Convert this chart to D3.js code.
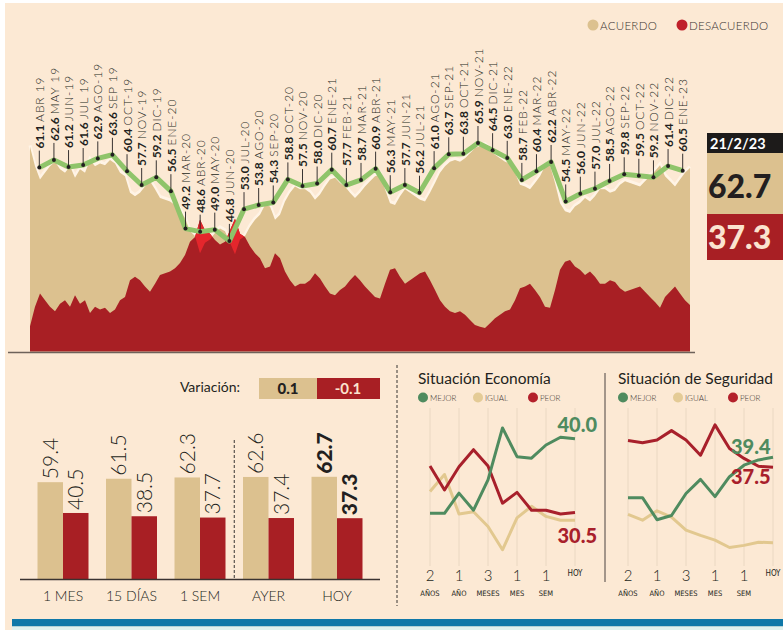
<!DOCTYPE html>
<html>
<head>
<meta charset="utf-8">
<script src="https://cdn.jsdelivr.net/npm/d3@7"></script>
<style>
  html, body { margin: 0; padding: 0; background: #fff; }
  svg { display: block; font-family: Lato, 'Noto Sans', sans-serif; }
</style>
</head>
<body>
<svg id="chart" width="783" height="630"></svg>
<script>
// ---- data ----
const months = ['ABR 19','MAY 19','JUN-19','JUL 19','AGO-19','SEP 19','OCT-19','NOV-19','DIC-19','ENE-20',
  'MAR-20','ABR-20','MAY-20','JUN-20','JUL-20','AGO-20','SEP-20','OCT-20','NOV-20','DIC-20',
  'ENE-21','FEB-21','MAR-21','ABR-21','MAY-21','JUN-21','JUL-21','AGO-21','SEP-21','OCT-21',
  'NOV-21','DIC-21','ENE-22','FEB-22','MAR-22','ABR-22','MAY-22','JUN-22','JUL-22','AGO-22',
  'SEP-22','OCT-22','NOV-22','DIC-22','ENE-23'];
const monthlyAcuerdo = [61.1,62.6,61.2,61.6,62.9,63.6,60.4,57.7,59.2,56.5,
  49.2,48.6,49.0,46.8,53.0,53.8,54.3,58.8,57.5,58.0,
  60.7,57.7,58.7,60.9,56.3,57.7,56.2,61.0,63.7,63.8,
  65.9,64.5,63.0,58.7,60.4,62.2,54.5,56.0,57.0,58.5,
  59.8,59.5,59.2,61.4,60.5];

// daily "desacuerdo" (acuerdo is its complement)
const desacuerdoDaily = [
  34.4,37.8,40.1,38.9,37.8,37.0,38.3,38.9,37.8,39.8,
  38.3,38.9,36.7,37.8,37.3,37.6,36.7,37.3,38.9,39.5,
  42.4,43.0,42.4,41.3,40.4,41.8,43.3,43.6,43.9,44.5,
  45.4,46.8,49.1,49.9,52.9,51.1,50.5,49.4,48.6,49.1,
  51.1,53.1,50.5,49.9,48.3,47.1,46.2,44.5,44.8,47.1,
  46.2,43.9,42.4,41.3,41.8,41.8,42.4,43.6,42.7,41.3,
  40.1,39.8,40.7,41.3,42.4,43.3,42.4,41.3,40.4,39.5,
  39.2,41.8,44.2,44.5,43.0,41.8,42.4,43.0,43.6,43.9,
  42.4,40.7,38.9,37.8,37.0,36.7,37.0,36.4,35.5,34.6,
  34.3,34.1,34.9,35.8,36.4,37.0,37.3,38.9,41.0,41.3,
  41.8,40.7,39.5,37.8,37.6,40.7,44.2,45.6,45.9,44.8,
  44.2,43.3,43.9,43.0,41.8,41.8,42.4,42.1,41.0,40.4,
  40.7,41.0,41.3,40.4,39.5,38.6,37.6,39.5,40.4,41.3,
  40.1,38.9,38.1];

const todayDate = '21/2/23';
const todayAcuerdo = 62.7;
const todayDesacuerdo = 37.3;

const periods = ['1 MES','15 DÍAS','1 SEM','AYER','HOY'];
const periodAcuerdo = [59.4, 61.5, 62.3, 62.6, 62.7];
const periodDesacuerdo = [40.5, 38.5, 37.7, 37.4, 37.3];
const variation = ['0.1', '-0.1'];

const miniTickNums = ['2','1','3','1','1','HOY'];
const miniTickUnits = ['AÑOS','AÑO','MESES','MES','SEM',''];
const miniTickIndex = [0,2,4,6,8,10];

const econMejor = [30.4,30.4,33.0,30.8,34.7,41.4,37.7,37.5,39.2,40.2,40.0];
const econIgual = [33.2,35.4,30.3,30.6,28.7,25.7,29.8,31.3,30.0,29.5,29.5];
const econPeor  = [36.5,33.4,36.4,38.6,36.5,31.7,33.1,30.8,30.8,30.3,30.5];

const segMejor = [31.7,31.7,27.5,28.3,32.5,35.2,31.9,35.7,37.9,38.9,39.4];
const segIgual = [28.5,27.4,29.2,28.0,25.5,24.5,23.6,22.2,22.6,23.2,23.1];
const segPeor  = [42.6,42.2,42.7,44.5,42.7,39.8,45.6,41.1,39.2,37.7,37.5];

// ---- styles ----
const BG = '#fce9d4';
const TAN = '#dcc18f';
const RED = '#a81f24';
const BRIGHT = '#e4262c';
const INK = '#231f20';
const GREEN = '#4f8b5f';

const svg = d3.select('#chart');
svg.append('rect').attr('width', 783).attr('height', 630).attr('fill', '#fff');
svg.append('rect').attr('x', 5).attr('y', 3).attr('width', 778).attr('height', 627).attr('fill', BG);

// ---- legend top ----
const legend = svg.append('g').attr('font-size', 11.5).attr('fill', '#3a3330').attr('font-weight', 300);
[['ACUERDO', TAN, 593], ['DESACUERDO', '#c0202a', 682]].forEach(([t, c, x]) => {
  legend.append('circle').attr('cx', x).attr('cy', 25).attr('r', 5.5).attr('fill', c);
  legend.append('text').attr('x', x + 7).attr('y', 29.5).attr('letter-spacing', 0.3).text(t);
});

// ---- area chart ----
const xDay = d3.scaleLinear().domain([0, desacuerdoDaily.length - 1]).range([30, 690]);
const yArea = d3.scaleLinear().domain([30, 70]).range([351.5, 121.5]);

const tanTop = d3.line().x((d, i) => xDay(i)).y(d => yArea(100 - d));
svg.append('path').datum(desacuerdoDaily)
  .attr('d', tanTop).attr('fill', 'none')
  .attr('stroke', '#fff4e6').attr('stroke-width', 3)
  .attr('transform', 'translate(0,-1.5)');

svg.append('path').datum(desacuerdoDaily)
  .attr('d', d3.area().x((d, i) => xDay(i)).y0(yArea(30)).y1(d => yArea(100 - d)))
  .attr('fill', TAN);

const redArea = d3.area().x((d, i) => xDay(i)).y0(yArea(30)).y1(d => yArea(d));
svg.append('path').datum(desacuerdoDaily).attr('d', redArea).attr('fill', RED);

// where disagreement rises above agreement
svg.append('clipPath').attr('id', 'aboveTan')
  .append('path').datum(desacuerdoDaily)
  .attr('d', d3.area().x((d, i) => xDay(i)).y0(0).y1(d => yArea(100 - d)));
svg.append('path').datum(desacuerdoDaily).attr('d', redArea)
  .attr('fill', BRIGHT).attr('clip-path', 'url(#aboveTan)');

svg.append('line').attr('x1', 8).attr('x2', 695).attr('y1', 352.5).attr('y2', 352.5)
  .attr('stroke', '#6d625a').attr('stroke-width', 1.5);

// monthly line
const xMonth = d3.scalePoint().domain(months).range([39.3, 682.7]);
const yLine = d3.scaleLinear().domain([30, 70]).range([327, 122]);
const monthly = months.map((m, i) => ({ m, v: monthlyAcuerdo[i] }));

svg.append('path').datum(monthly)
  .attr('d', d3.line().x(d => xMonth(d.m)).y(d => yLine(d.v)))
  .attr('fill', 'none').attr('stroke', '#8fc46a').attr('stroke-width', 5)
  .attr('stroke-linejoin', 'round');

const lead = 17;
const mg = svg.selectAll('.mlab').data(monthly).enter().append('g').attr('class', 'mlab');
mg.append('line')
  .attr('x1', d => xMonth(d.m)).attr('x2', d => xMonth(d.m))
  .attr('y1', d => yLine(d.v)).attr('y2', d => yLine(d.v) - lead)
  .attr('stroke', INK).attr('stroke-width', 0.9);
mg.append('circle').attr('cx', d => xMonth(d.m)).attr('cy', d => yLine(d.v)).attr('r', 2).attr('fill', INK);
const mt = mg.append('text')
  .attr('transform', d => `translate(${xMonth(d.m) + 0.5},${yLine(d.v) - lead - 2}) rotate(-90)`)
  .attr('dy', '0.35em').attr('font-size', 12).attr('fill', INK);
mt.append('tspan').attr('font-weight', 700).text(d => d.v.toFixed(1));
mt.append('tspan').attr('font-weight', 300).attr('dx', 3).attr('letter-spacing', 0.9).text(d => d.m);

// ---- today panel ----
const panel = svg.append('g');
panel.append('rect').attr('x', 707).attr('y', 133).attr('width', 80).attr('height', 20).attr('fill', '#1d1b1a');
panel.append('rect').attr('x', 707).attr('y', 153).attr('width', 80).attr('height', 61).attr('fill', TAN);
panel.append('rect').attr('x', 707).attr('y', 214).attr('width', 80).attr('height', 46).attr('fill', RED);
panel.append('text').attr('x', 710).attr('y', 148.5).attr('font-size', 14.5).attr('font-weight', 700)
  .attr('fill', '#fff').text(todayDate);
panel.append('text').attr('x', 708).attr('y', 198).attr('font-size', 32).attr('font-weight', 900)
  .attr('fill', INK).text(todayAcuerdo.toFixed(1));
panel.append('text').attr('x', 708).attr('y', 249).attr('font-size', 32).attr('font-weight', 900)
  .attr('fill', '#fbe3cf').text(todayDesacuerdo.toFixed(1));

// ---- bar chart ----
const bars = svg.append('g');
bars.append('text').attr('x', 240).attr('y', 392).attr('text-anchor', 'end')
  .attr('font-size', 14).attr('fill', INK).text('Variación:');
bars.append('rect').attr('x', 259).attr('y', 378).attr('width', 58).attr('height', 21).attr('fill', TAN);
bars.append('rect').attr('x', 317).attr('y', 378).attr('width', 63).attr('height', 21).attr('fill', RED);
bars.append('text').attr('x', 288).attr('y', 394).attr('text-anchor', 'middle').attr('font-size', 15)
  .attr('font-weight', 900).attr('fill', INK).text(variation[0]);
bars.append('text').attr('x', 348).attr('y', 394).attr('text-anchor', 'middle').attr('font-size', 15)
  .attr('font-weight', 700).attr('fill', '#fbe3cf').text(variation[1]);

const xBar = d3.scalePoint().domain(periods).range([63, 337]);
const yBar = d3.scaleLinear().domain([0, 100]).range([579, 416]);
const bw = 25.5;
periods.forEach((p, i) => {
  const cx = xBar(p);
  const bold = p === 'HOY';
  bars.append('rect').attr('x', cx - bw).attr('y', yBar(periodAcuerdo[i]))
    .attr('width', bw).attr('height', yBar(0) - yBar(periodAcuerdo[i])).attr('fill', TAN);
  bars.append('rect').attr('x', cx).attr('y', yBar(periodDesacuerdo[i]))
    .attr('width', bw).attr('height', yBar(0) - yBar(periodDesacuerdo[i])).attr('fill', RED);
  [[periodAcuerdo[i], cx - bw / 2], [periodDesacuerdo[i], cx + bw / 2]].forEach(([v, x]) => {
    bars.append('text')
      .attr('transform', `translate(${x},${yBar(v) - 3}) rotate(-90)`)
      .attr('dy', '0.35em').attr('font-size', 21)
      .attr('font-weight', bold ? 900 : 300).attr('fill', INK)
      .text(v.toFixed(1));
  });
  bars.append('text').attr('x', cx).attr('y', 601).attr('text-anchor', 'middle')
    .attr('font-size', 14).attr('font-weight', 300).attr('fill', INK).text(p);
});
bars.append('line').attr('x1', 20).attr('x2', 380).attr('y1', 579.5).attr('y2', 579.5)
  .attr('stroke', '#3a3330').attr('stroke-width', 1.5);
const sepX = (xBar('1 SEM') + xBar('AYER')) / 2;
bars.append('line').attr('x1', sepX).attr('x2', sepX).attr('y1', 440).attr('y2', 580)
  .attr('stroke', INK).attr('stroke-dasharray', '3,2').attr('stroke-width', 0.9);

svg.append('line').attr('x1', 397).attr('x2', 397).attr('y1', 365).attr('y2', 606)
  .attr('stroke', INK).attr('stroke-dasharray', '3,2').attr('stroke-width', 0.9);
svg.append('line').attr('x1', 605).attr('x2', 605).attr('y1', 373).attr('y2', 582)
  .attr('stroke', '#4a4340').attr('stroke-width', 1);

// ---- mini line charts ----
function miniChart(cfg) {
  const g = svg.append('g');
  const idx = d3.range(cfg.mejor.length);
  const x = d3.scaleLinear().domain([0, idx.length - 1]).range(cfg.xRange);
  const y = d3.scaleLinear().domain([20, 45]).range(cfg.yRange);

  g.append('text').attr('x', cfg.titleX).attr('y', 384).attr('font-size', 15.5)
    .attr('fill', INK).text(cfg.title);
  [['MEJOR', GREEN, 0], ['IGUAL', '#e4cb96', 55], ['PEOR', '#b3202b', 110]].forEach(([t, c, dx]) => {
    g.append('circle').attr('cx', cfg.titleX + 5 + dx).attr('cy', 397.5).attr('r', 5).attr('fill', c);
    g.append('text').attr('x', cfg.titleX + 12 + dx).attr('y', 400.5).attr('font-size', 8)
      .attr('font-weight', 300).attr('fill', '#3a3330').text(t);
  });

  miniTickIndex.forEach((k, j) => {
    g.append('line').attr('x1', x(k)).attr('x2', x(k)).attr('y1', 408).attr('y2', 566)
      .attr('stroke', '#ead8c2').attr('stroke-width', 1);
    const isHoy = miniTickNums[j] === 'HOY';
    g.append('text').attr('x', x(k)).attr('y', isHoy ? 576 : 581).attr('text-anchor', 'middle')
      .attr('font-size', isHoy ? 8 : 15).attr('font-weight', 300).attr('fill', INK)
      .attr('font-family', isHoy ? "'Liberation Sans Narrow', 'DejaVu Sans Condensed', sans-serif" : null)
      .text(miniTickNums[j]);
    g.append('text').attr('x', x(k)).attr('y', 596).attr('text-anchor', 'middle')
      .attr('font-size', 7.5).attr('fill', INK)
      .attr('font-family', "'Liberation Sans Narrow', 'DejaVu Sans Condensed', sans-serif")
      .text(miniTickUnits[j]);
  });

  const line = d3.line().x((d, i) => x(i)).y(d => y(d));
  [[cfg.igual, '#e2c88f'], [cfg.peor, '#a8202b'], [cfg.mejor, GREEN]].forEach(([s, c]) => {
    g.append('path').datum(s).attr('d', line).attr('fill', 'none')
      .attr('stroke', c).attr('stroke-width', 3).attr('stroke-linejoin', 'round');
  });
  const last = idx.length - 1;
  g.append('text').attr('x', cfg.labelX).attr('y', cfg.mejorLabelY).attr('text-anchor', cfg.anchor)
    .attr('font-size', 20).attr('font-weight', 900).attr('fill', GREEN)
    .text(cfg.mejor[last].toFixed(1));
  g.append('text').attr('x', cfg.labelX).attr('y', cfg.peorLabelY).attr('text-anchor', cfg.anchor)
    .attr('font-size', 20).attr('font-weight', 900).attr('fill', '#a8202b')
    .text(cfg.peor[last].toFixed(1));
}

miniChart({
  title: 'Situación Economía', titleX: 418,
  mejor: econMejor, igual: econIgual, peor: econPeor,
  xRange: [430, 575], yRange: [594, 400],
  labelX: 597, anchor: 'end', mejorLabelY: 432, peorLabelY: 543
});
miniChart({
  title: 'Situación de Seguridad', titleX: 618,
  mejor: segMejor, igual: segIgual, peor: segPeor,
  xRange: [628, 773], yRange: [559, 428],
  labelX: 731, anchor: 'start', mejorLabelY: 454, peorLabelY: 484
});

// ---- bottom band ----
svg.append('rect').attr('x', 12).attr('y', 619).attr('width', 771).attr('height', 7.5).attr('fill', '#0f78a8');
svg.append('rect').attr('x', 12).attr('y', 626.5).attr('width', 771).attr('height', 3.5).attr('fill', '#dff1ee');
</script>
</body>
</html>
